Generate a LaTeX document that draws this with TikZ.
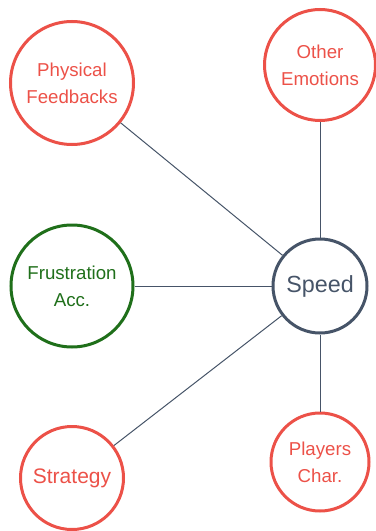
\documentclass[tikz,border=0pt]{standalone}
\usepackage{fontspec}
\setmainfont{Liberation Sans}
\usetikzlibrary{positioning}
\definecolor{warmred}{HTML}{EC5148}
\definecolor{deepgreen}{HTML}{1F6F1A}
\definecolor{slate}{HTML}{465468}

\begin{document}
\begin{tikzpicture}[
  x=0.75pt, y=-0.75pt,
  bubble/.style={circle, draw=warmred, line width=2.25pt, inner sep=0pt, align=center,
    text=warmred, font=\fontsize{14}{20}\selectfont},
  link/.style={draw=slate, line width=0.75pt}
]
  \useasboundingbox (0,0) rectangle (375,531);

  \node[bubble, minimum size=92.25pt] (phys) at (72,83) {Physical\\Feedbacks};
  \node[bubble, minimum size=83.25pt] (other) at (320,65) {Other\\Emotions};
  \node[bubble, minimum size=91.5pt, draw=deepgreen, text=deepgreen] (frust) at (72,286) {Frustration\\Acc.};
  \node[bubble, minimum size=70.5pt, draw=slate, text=slate, font=\fontsize{17.5}{21}\selectfont] (speed) at (320,286) {Speed};
  \node[bubble, minimum size=77.25pt, font=\fontsize{15.75}{20}\selectfont] (strat) at (72,478) {Strategy};
  \node[bubble, minimum size=73.5pt] (play) at (320,462) {Players\\Char.};

  % Links to the centre
  \draw[link] (phys) -- (speed);
  \draw[link] (other) -- (speed);
  \draw[link] (frust) -- (speed);
  \draw[link] (strat) -- (speed);
  \draw[link] (play) -- (speed);
\end{tikzpicture}
\end{document}
